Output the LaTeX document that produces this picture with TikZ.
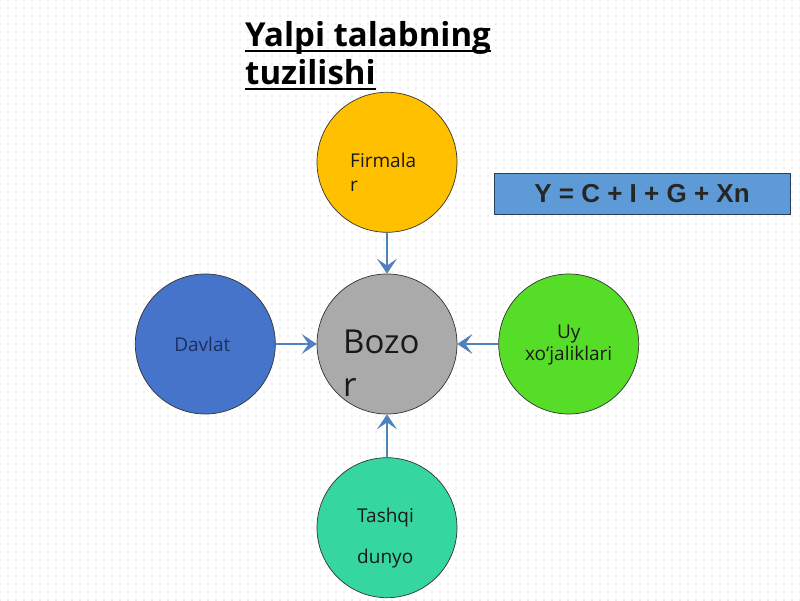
\documentclass[tikz,border=0pt]{standalone}
\usepackage{fontspec}
\setmainfont{Open Sans}
\newfontfamily\formulafont{Liberation Sans}
\usetikzlibrary{arrows.meta,positioning,patterns}
\definecolor{firmcol}{HTML}{FFC000}
\definecolor{bozorcol}{HTML}{AAAAAA}
\definecolor{davlatcol}{HTML}{4674CA}
\definecolor{davlattext}{HTML}{1C2F5E}
\definecolor{uycol}{HTML}{55DD28}
\definecolor{tashqicol}{HTML}{36D6A0}
\definecolor{boxcol}{HTML}{5E9BD6}
\definecolor{arrowcol}{HTML}{4F81BD}
\pgfdeclarepatternformonly{dotgrid}{\pgfpoint{-1pt}{-1pt}}{\pgfpoint{1pt}{1pt}}{\pgfpoint{8pt}{8pt}}{%
  \pgfpathcircle{\pgfpointorigin}{0.65pt}\pgfusepath{fill}}
\begin{document}
\begin{tikzpicture}[x=1pt,y=1pt,
    bubble/.style={
      circle,
      draw=black!80,
      line width=0.7pt,
      minimum size=140pt,
      inner sep=0pt
    },
    txt/.style={inner sep=0pt, font=\fontsize{19}{24}\selectfont, text=black!90},
    title/.style={inner sep=0pt, font=\bfseries\fontsize{33}{38}\selectfont},
    formula/.style={
      draw=black!50!arrowcol,
      fill=boxcol,
      minimum width=296pt,
      minimum height=41pt,
      inner sep=0pt,
      font=\formulafont\bfseries\fontsize{26}{30}\selectfont,
      text=black!85
    },
    feed/.style={-{Stealth[length=15pt,width=20pt,inset=7pt]}, draw=arrowcol, fill=arrowcol, line width=1.5pt},
    node distance=41pt
  ]
  \fill[white] (0,0) rectangle (800,600);
  \fill[pattern=dotgrid, pattern color=black!30] (0,0) rectangle (800,600);
  \useasboundingbox (0,0) rectangle (800,600);
  % title
  \node[title, anchor=base west] (title1) at (245,553) {Yalpi talabning};
  \node[title, anchor=base west] (title2) at (245,515) {tuzilishi};
  \draw[line width=2.5pt] ([yshift=-4pt]title1.base west) -- ([yshift=-4pt]title1.base east);
  \draw[line width=2.5pt] ([yshift=-4pt]title2.base west) -- ([yshift=-4pt]title2.base east);
  % circles
  \node[bubble, fill=bozorcol] (bozor) at (387,256) {};
  \node[bubble, fill=firmcol, above=of bozor] (firm) {};
  \node[bubble, fill=davlatcol, left=of bozor] (davlat) {};
  \node[bubble, fill=uycol, right=of bozor] (uy) {};
  \node[bubble, fill=tashqicol, below=43pt of bozor] (tashqi) {};
  \node[txt, anchor=west, align=left] (firm-t) at ([xshift=-37pt,yshift=-10pt]firm.center) {Firmala\\r};
  \node[txt, anchor=west, align=left, font=\fontsize{33}{43}\selectfont] (bozor-t) at ([xshift=-44pt,yshift=-19pt]bozor.center) {Bozo\\r};
  \node[txt, text=davlattext] (davlat-t) at ([xshift=-3pt]davlat.center) {Davlat};
  \node[txt, align=center, font=\fontsize{19}{22}\selectfont] (uy-t) at ([yshift=-1pt]uy.center) {Uy\\xo‘jaliklari};
  \node[txt, anchor=west, align=left, font=\fontsize{19}{41}\selectfont] (tashqi-t) at ([xshift=-30pt,yshift=-10pt]tashqi.center) {Tashqi\\dunyo};
  % formula
  \node[formula] (formula) at (642,406.5) {Y = C + I + G + Xn};
  % arrows
  \draw[feed] (firm) -- (bozor);
  \draw[feed] (davlat) -- (bozor);
  \draw[feed] (uy) -- (bozor);
  \draw[feed] (tashqi) -- (bozor);
\end{tikzpicture}
\end{document}
